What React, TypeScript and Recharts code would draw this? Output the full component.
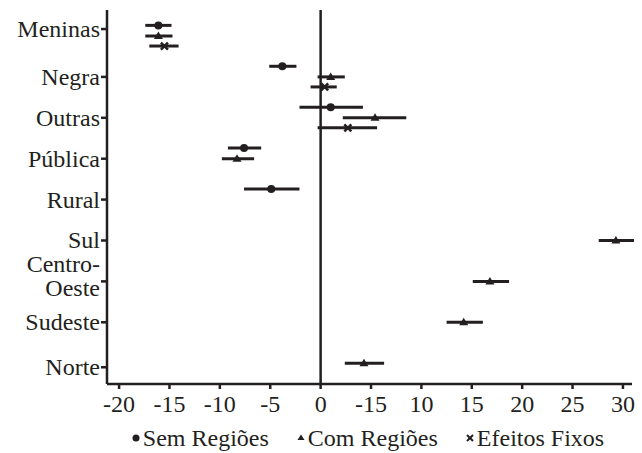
import {
  ScatterChart,
  Scatter,
  XAxis,
  YAxis,
  ErrorBar,
  ReferenceLine,
  Legend,
} from "recharts";

// categorias (de cima para baixo)
const categories = [
  "Meninas",
  "Negra",
  "Outras",
  "Pública",
  "Rural",
  "Sul",
  "Centro-Oeste",
  "Sudeste",
  "Norte",
];

// Sem Regiões
const semCoef = [-16.1, -3.8, 1.0, -7.6, -4.9, null, null, null, null];
const semLow = [-17.4, -5.1, -2.1, -9.2, -7.6, null, null, null, null];
const semHigh = [-14.8, -2.4, 4.2, -5.9, -2.1, null, null, null, null];

// Com Regiões
const comCoef = [-16.1, 1.0, 5.4, -8.3, null, 29.3, 16.8, 14.2, 4.3];
const comLow = [-17.4, -0.3, 2.2, -9.8, null, 27.6, 15.1, 12.5, 2.4];
const comHigh = [-14.7, 2.4, 8.5, -6.6, null, 31.1, 18.7, 16.1, 6.3];

// Efeitos Fixos
const fixCoef = [-15.5, 0.4, 2.7, null, null, null, null, null, null];
const fixLow = [-17.0, -1.0, -0.3, null, null, null, null, null, null];
const fixHigh = [-14.1, 1.6, 5.6, null, null, null, null, null, null];

const xTicks = [-20, -15, -10, -5, 0, 5, 10, 15, 20, 25, 30];
const xTickLabels = ["-20", "-15", "-10", "-5", "0", "-15", "10", "15", "20", "25", "30"];

const INK = "#231f20";
const FONT = '"Liberation Serif", "Times New Roman", serif';

const buildSeries = (
  coef: (number | null)[],
  low: (number | null)[],
  high: (number | null)[],
  shift: number
) =>
  coef
    .map((c, i) =>
      c === null
        ? null
        : { x: c, y: i + shift, err: [c - (low[i] as number), (high[i] as number) - c] }
    )
    .filter((d) => d !== null);

const semData = buildSeries(semCoef, semLow, semHigh, -0.26);
const comData = buildSeries(comCoef, comLow, comHigh, 0);
const fixData = buildSeries(fixCoef, fixLow, fixHigh, 0.245);

const Dot = (p: any) => <circle cx={p.cx} cy={p.cy} r={4} fill={INK} />;
const Tri = (p: any) => (
  <polygon
    points={`${p.cx},${p.cy - 4.5} ${p.cx - 4.5},${p.cy + 3} ${p.cx + 4.5},${p.cy + 3}`}
    fill={INK}
  />
);
const Cross = (p: any) => (
  <g stroke={INK} strokeWidth={2.5}>
    <line x1={p.cx - 3.5} y1={p.cy - 3.5} x2={p.cx + 3.5} y2={p.cy + 3.5} />
    <line x1={p.cx - 3.5} y1={p.cy + 3.5} x2={p.cx + 3.5} y2={p.cy - 3.5} />
  </g>
);

const CategoryTick = ({ x, y, payload }: any) => {
  const label = categories[Math.round(payload.value)] ?? "";
  const parts = label.includes("-")
    ? [label.slice(0, label.indexOf("-") + 1), label.slice(label.indexOf("-") + 1)]
    : [label];
  return (
    <g>
      {parts.length === 1 ? (
        <text x={x} y={y + 8} textAnchor="end" fill={INK} fontSize={24} fontFamily={FONT}>
          {label}
        </text>
      ) : (
        <text x={x} y={y} textAnchor="end" fill={INK} fontSize={24} fontFamily={FONT}>
          <tspan x={x} dy={-9}>{parts[0]}</tspan>
          <tspan x={x} dy={24}>{parts[1]}</tspan>
        </text>
      )}
    </g>
  );
};

const legendItems = [
  { name: "Sem Regiões", icon: <circle cx={4} cy={6} r={3.5} fill={INK} /> },
  { name: "Com Regiões", icon: <polygon points="4,2.5 0.5,8 7.5,8" fill={INK} /> },
  {
    name: "Efeitos Fixos",
    icon: (
      <g stroke={INK} strokeWidth={2}>
        <line x1={1} y1={3} x2={7} y2={9} />
        <line x1={1} y1={9} x2={7} y2={3} />
      </g>
    ),
  },
];

const LegendContent = () => (
  <div
    style={{
      height: 30,
      display: "flex",
      justifyContent: "center",
      alignItems: "center",
      paddingLeft: 104,
      gap: 28,
      fontFamily: FONT,
      fontSize: 24,
      color: INK,
    }}
  >
    {legendItems.map((it) => (
      <span key={it.name} style={{ display: "flex", alignItems: "center" }}>
        <svg width={8} height={12} style={{ marginRight: 3 }}>
          {it.icon}
        </svg>
        {it.name}
      </span>
    ))}
  </div>
);

export default function App() {
  return (
    <div style={{ position: "absolute", left: 0, top: 0, background: "#fff" }}>
      <ScatterChart width={642} height={453} margin={{ top: 10, right: 10, left: 0, bottom: 0 }}>
        <XAxis
          type="number"
          dataKey="x"
          domain={[-21.2, 30.9]}
          allowDataOverflow
          ticks={xTicks}
          interval={0}
          tickFormatter={(v: number) => xTickLabels[xTicks.indexOf(v)]}
          height={39}
          tickSize={5}
          tickMargin={6}
          axisLine={{ stroke: INK, strokeWidth: 2.5 }}
          tickLine={{ stroke: INK, strokeWidth: 2.5 }}
          tick={{ fill: INK, fontSize: 24, fontFamily: FONT }}
        />
        <YAxis
          type="number"
          dataKey="y"
          domain={[-0.636, 8.509]}
          allowDataOverflow
          reversed
          ticks={[-0.17, 1, 2, 3, 4, 5, 6, 7, 8.1]}
          interval={0}
          width={107}
          tickSize={6}
          tickMargin={1}
          axisLine={{ stroke: INK, strokeWidth: 2.5 }}
          tickLine={{ stroke: INK, strokeWidth: 2.5 }}
          tick={<CategoryTick />}
        />
        <ReferenceLine x={0} stroke={INK} strokeWidth={2.5} />
        <Legend verticalAlign="bottom" content={<LegendContent />} />
        <Scatter name="Sem Regiões" data={semData} shape={Dot} isAnimationActive={false}>
          <ErrorBar dataKey="err" direction="x" width={0} stroke={INK} strokeWidth={3} />
        </Scatter>
        <Scatter name="Com Regiões" data={comData} shape={Tri} isAnimationActive={false}>
          <ErrorBar dataKey="err" direction="x" width={0} stroke={INK} strokeWidth={3} />
        </Scatter>
        <Scatter name="Efeitos Fixos" data={fixData} shape={Cross} isAnimationActive={false}>
          <ErrorBar dataKey="err" direction="x" width={0} stroke={INK} strokeWidth={3} />
        </Scatter>
      </ScatterChart>
    </div>
  );
}
